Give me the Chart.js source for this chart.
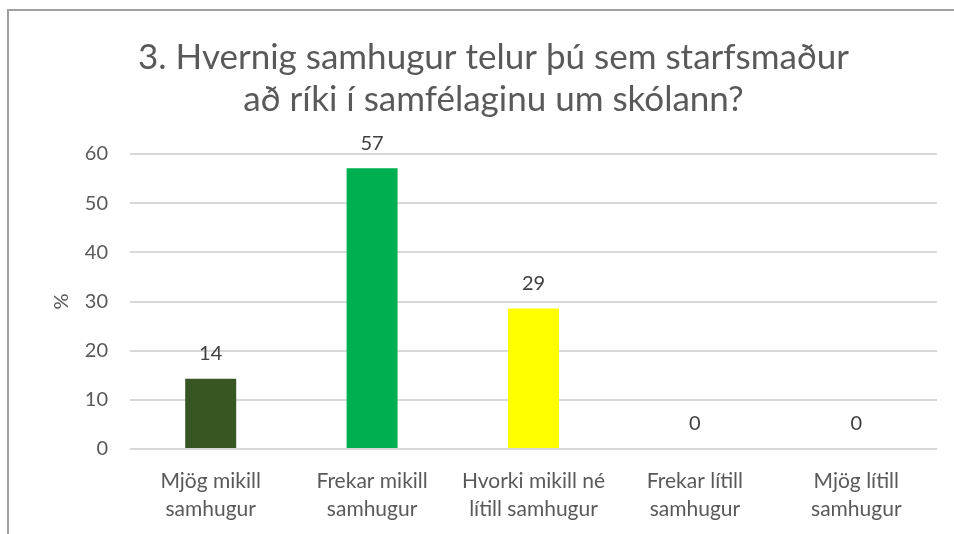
<!DOCTYPE html>
<html>
<head>
<meta charset="utf-8">
<script src="https://cdn.jsdelivr.net/npm/chart.js@4/dist/chart.umd.min.js"></script>
<style>
    body { margin: 0; background: #fff; overflow: hidden; }
    .wrap { position: relative; width: 954px; height: 534px; }
    .frame { position: absolute; left: 7px; top: 9px; width: 1000px; height: 600px;
             border-left: 2px solid #a0a0a0; border-top: 2px solid #a0a0a0; }
</style>
</head>
<body>
<div class="wrap">
    <div class="frame"></div>
    <canvas id="chart" width="954" height="534"></canvas>
</div>
<script>
const titleLines = ['3. Hvernig samhugur telur þú sem starfsmaður', 'að ríki í samfélaginu um skólann?'];
const categories = [
    ['Mjög mikill', 'samhugur'],
    ['Frekar mikill', 'samhugur'],
    ['Hvorki mikill né', 'lítill samhugur'],
    ['Frekar lítill', 'samhugur'],
    ['Mjög lítill', 'samhugur']
];
const values = [14.3, 57.1, 28.6, 0, 0];
const barColors = ['#375623', '#00B050', '#FFFF00', '#A9D18E', '#70AD47'];
const yTicks = [0, 10, 20, 30, 40, 50, 60];

const fontFamily = 'Lato, "Open Sans", sans-serif';

// draws the rounded value above each bar
const valueLabels = {
    id: 'valueLabels',
    afterDatasetsDraw(chart) {
        const ctx = chart.ctx;
        const meta = chart.getDatasetMeta(0);
        ctx.save();
        ctx.font = '20px ' + fontFamily;
        ctx.fillStyle = '#404040';
        ctx.textAlign = 'center';
        ctx.textBaseline = 'middle';
        meta.data.forEach((bar, i) => {
            ctx.fillText(Math.round(values[i]), bar.x, bar.y - 25);
        });
        ctx.restore();
    }
};

let ctx = document.getElementById('chart').getContext('2d');
const chart = new Chart(ctx, {
    type: 'bar',
    data: {
        labels: categories,
        datasets: [{
            data: values,
            backgroundColor: barColors,
            categoryPercentage: 1,
            barPercentage: 0.316
        }]
    },
    options: {
        responsive: false,
        animation: false,
        layout: { padding: { top: 10, left: 50, right: 17, bottom: 0 } },
        plugins: {
            legend: { display: false },
            tooltip: { enabled: false },
            title: {
                display: true,
                text: titleLines,
                color: '#595959',
                font: { family: fontFamily, size: 35, weight: 'normal', lineHeight: 1.2 },
                padding: { top: 27, bottom: 33 }
            }
        },
        scales: {
            x: {
                grid: { display: false, drawTicks: false },
                border: { display: false },
                ticks: {
                    color: '#595959',
                    padding: 18,
                    maxRotation: 0,
                    font: { family: fontFamily, size: 21, lineHeight: 1.33 }
                },
                afterFit(scale) { scale.height = 85; }
            },
            y: {
                min: 0,
                max: 60,
                afterBuildTicks(scale) { scale.ticks = yTicks.map(v => ({ value: v })); },
                grid: { color: '#d9d9d9', lineWidth: 2, drawTicks: false },
                border: { display: false },
                ticks: {
                    color: '#595959',
                    padding: 22,
                    font: { family: fontFamily, size: 20 }
                },
                title: {
                    display: true,
                    text: '%',
                    color: '#595959',
                    font: { family: fontFamily, size: 20 },
                    padding: { top: 0, bottom: 0 }
                },
                afterFit(scale) { scale.width = 80; }
            }
        }
    },
    plugins: [valueLabels]
});
</script>
</body>
</html>
